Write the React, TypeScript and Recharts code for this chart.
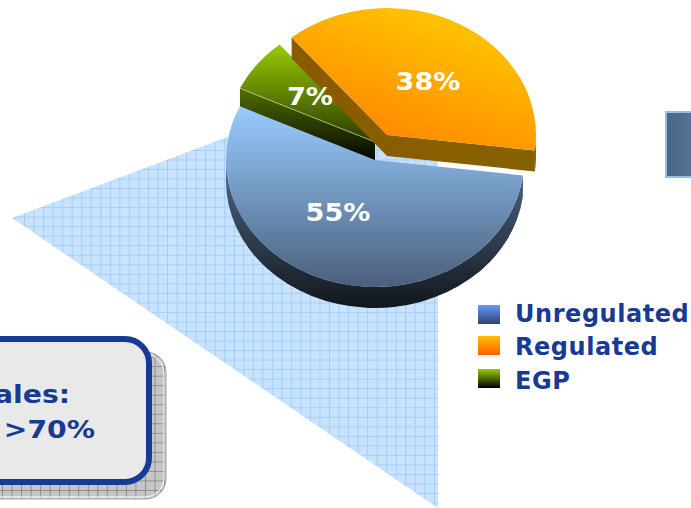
import React from 'react';
import { Legend, Pie, PieChart } from 'recharts';

// legend order, top to bottom
const categories = ['Unregulated', 'Regulated', 'EGP'];
const shares = [55, 38, 7];

const pieData = categories
  .map((name, i) => ({ name, value: shares[i] }))
  .reverse(); // EGP first so it is painted underneath the others

const Y_SCALE = 0.852;
const DEPTH = 21;
const RAD = Math.PI / 180;
const TEXT_STRETCH = 1.13;
const INK = '#173a94';

const sliceLook: Record<string, any> = {
  Unregulated: { dx: 0, dy: 0, top: 'url(#blueTop)', wall: 'url(#blueWall)', labelX: -37, labelY: 53 },
  Regulated: { dx: 12, dy: -25, top: 'url(#orangeTop)', wall: 'url(#orangeWall)', labelX: 41, labelY: -53 },
  EGP: { dx: 0, dy: -18, top: 'url(#greenTop)', wall: 'url(#greenWall)', labelX: -65, labelY: -45 },
};

const swatches: Record<string, any> = {
  Unregulated: { background: 'linear-gradient(#6699ff, #2c4270)', shift: 0 },
  Regulated: { background: 'linear-gradient(#ffc000, #ff6000)', shift: -3 },
  EGP: { background: 'linear-gradient(#99cc00, #000000)', shift: -3 },
};

function point(cx: number, cy: number, r: number, deg: number) {
  return [cx + r * Math.cos(deg * RAD), cy - r * Y_SCALE * Math.sin(deg * RAD)];
}

function arc(cx: number, cy: number, r: number, from: number, to: number) {
  const [x, y] = point(cx, cy, r, to);
  const large = Math.abs(from - to) > 180 ? 1 : 0;
  return `A ${r} ${r * Y_SCALE} 0 ${large} 1 ${x} ${y}`;
}

function Slice3D(props: any) {
  const { cx, cy, outerRadius: r, startAngle, endAngle, name } = props;
  const look = sliceLook[name];
  const x0 = cx + look.dx;
  const y0 = cy + look.dy;
  const [ax, ay] = point(x0, y0, r, startAngle);
  const [bx, by] = point(x0, y0, r, endAngle);

  // the rim is only visible on the lower half of the ellipse
  const from = Math.min(startAngle, 0);
  const to = Math.max(endAngle, -180);
  let band = '';
  if (from > to) {
    const [fx, fy] = point(x0, y0, r, from);
    const [tx, ty] = point(x0, y0, r, to);
    band =
      `M ${fx} ${fy} ${arc(x0, y0, r, from, to)} L ${tx} ${ty + DEPTH} ` +
      `A ${r} ${r * Y_SCALE} 0 0 0 ${fx} ${fy + DEPTH} Z`;
  }

  const faceA = `M ${x0} ${y0} L ${ax} ${ay} L ${ax} ${ay + DEPTH} L ${x0} ${y0 + DEPTH} Z`;
  const faceB = `M ${x0} ${y0} L ${bx} ${by} L ${bx} ${by + DEPTH} L ${x0} ${y0 + DEPTH} Z`;

  return (
    <g>
      {name === 'EGP' && <path d={faceA} fill={look.wall} />}
      {name === 'Regulated' && <path d={`${faceA} ${faceB}`} fill={look.wall} />}
      {band && <path d={band} fill={look.wall} />}
      <path
        d={`M ${x0} ${y0} L ${ax} ${ay} ${arc(x0, y0, r, startAngle, endAngle)} Z`}
        fill={look.top}
      />
      {name === 'EGP' && <line x1={x0} y1={y0} x2={ax} y2={ay} stroke="#c8d8a0" strokeWidth={0.7} />}
    </g>
  );
}

function sliceLabel(props: any) {
  const { cx, cy, name, value } = props;
  const look = sliceLook[name];
  return (
    <text
      transform={`translate(${cx + look.dx + look.labelX} ${cy + look.dy + look.labelY}) scale(${TEXT_STRETCH} 1)`}
      fill="#ffffff"
      fontFamily="DejaVu Sans"
      fontWeight="bold"
      fontSize={24}
      textAnchor="middle"
      dominantBaseline="central"
    >
      {value}%
    </text>
  );
}

function legendContent() {
  return (
    <div style={{ fontFamily: 'DejaVu Sans', fontWeight: 'bold', fontSize: 24, letterSpacing: 0.55, color: INK }}>
      {categories.map((name) => (
        <div key={name} style={{ display: 'flex', alignItems: 'center', height: 33.5, whiteSpace: 'nowrap' }}>
          <span
            style={{
              width: 22,
              height: 19,
              marginRight: 15,
              position: 'relative',
              top: swatches[name].shift + 1,
              background: swatches[name].background,
            }}
          />
          {name}
        </div>
      ))}
    </div>
  );
}

export default function App() {
  return (
    <div style={{ position: 'absolute', left: 0, top: 0, width: 691, height: 508, overflow: 'hidden', background: '#fff' }}>
      <PieChart width={691} height={508} margin={{ top: 0, right: 0, bottom: 0, left: 0 }}>
        <defs>
          <pattern id="blueGrid" width="9.53" height="9.53" patternUnits="userSpaceOnUse" patternTransform="translate(5 7)">
            <rect width="9.53" height="9.53" fill="#c9e3ff" />
            <path d="M 0.5 0 L 0.5 9.53 M 0 0.5 L 9.53 0.5" fill="none" stroke="#a3cefc" strokeWidth="1" />
          </pattern>
          <pattern id="greyGrid" width="9.53" height="9.53" patternUnits="userSpaceOnUse" patternTransform="translate(2 4)">
            <rect width="9.53" height="9.53" fill="#c6c6c6" />
            <path d="M 0.5 0 L 0.5 9.53 M 0 0.5 L 9.53 0.5" fill="none" stroke="#8e8e8e" strokeWidth="1" />
          </pattern>
          <linearGradient id="blueTop" x1="0" y1="0" x2="0" y2="1">
            <stop offset="0" stopColor="#99ccff" />
            <stop offset="1" stopColor="#4a5f7c" />
          </linearGradient>
          <linearGradient id="blueWall" x1="0" y1="0" x2="0" y2="1">
            <stop offset="0" stopColor="#4f6b8a" />
            <stop offset="1" stopColor="#12161c" />
          </linearGradient>
          <linearGradient id="orangeTop" x1="0.8" y1="0.05" x2="0.3" y2="0.9">
            <stop offset="0.15" stopColor="#ffc000" />
            <stop offset="1" stopColor="#ff8800" />
          </linearGradient>
          <linearGradient id="orangeWall" x1="0" y1="0" x2="1" y2="0">
            <stop offset="0" stopColor="#8a5a00" />
            <stop offset="1" stopColor="#856200" />
          </linearGradient>
          <linearGradient id="greenTop" x1="0" y1="0" x2="0" y2="1">
            <stop offset="0" stopColor="#99cc00" />
            <stop offset="1" stopColor="#2a3a00" />
          </linearGradient>
          <linearGradient id="greenWall" x1="0" y1="0" x2="0" y2="1">
            <stop offset="0" stopColor="#527000" />
            <stop offset="1" stopColor="#000000" />
          </linearGradient>
          <linearGradient id="panelFill" x1="0" y1="0" x2="1" y2="0">
            <stop offset="0" stopColor="#4a6484" />
            <stop offset="1" stopColor="#5a7a9c" />
          </linearGradient>
        </defs>

        <polygon points="12,218 438,58 438,508" fill="url(#blueGrid)" />
        <rect x={-60} y={352} width={226} height={147} rx={20} fill="url(#greyGrid)" stroke="#a8a8a8" strokeWidth={1} />
        <rect x={-60} y={354} width={224} height={143} rx={19} fill="none" stroke="#ffffff" strokeWidth={1} />
        <rect x={-60} y={339} width={209} height={143} rx={24} fill="#e9e9e9" stroke={INK} strokeWidth={6} />
        <text
          transform={`translate(70 403) scale(${TEXT_STRETCH} 1)`}
          textAnchor="end"
          fontFamily="DejaVu Sans"
          fontWeight="bold"
          fontSize={25}
          fill={INK}
        >
          ales:
        </text>
        <text
          transform={`translate(95 438) scale(${TEXT_STRETCH} 1)`}
          textAnchor="end"
          fontFamily="DejaVu Sans"
          fontWeight="bold"
          fontSize={25}
          fill={INK}
        >
          &gt;70%
        </text>
        <rect x={666} y={112} width={40} height={65} fill="url(#panelFill)" stroke="#8fc0ef" strokeWidth={2} />

        <Pie
          data={pieData}
          dataKey="value"
          nameKey="name"
          cx={375}
          cy={160}
          outerRadius={149}
          startAngle={155}
          endAngle={-205}
          stroke="none"
          shape={Slice3D}
          label={sliceLabel}
          labelLine={false}
          isAnimationActive={false}
        />
        <Legend
          content={legendContent}
          layout="vertical"
          wrapperStyle={{ position: 'absolute', left: 478, top: 297, width: 213, bottom: 'auto' }}
        />
      </PieChart>
    </div>
  );
}
